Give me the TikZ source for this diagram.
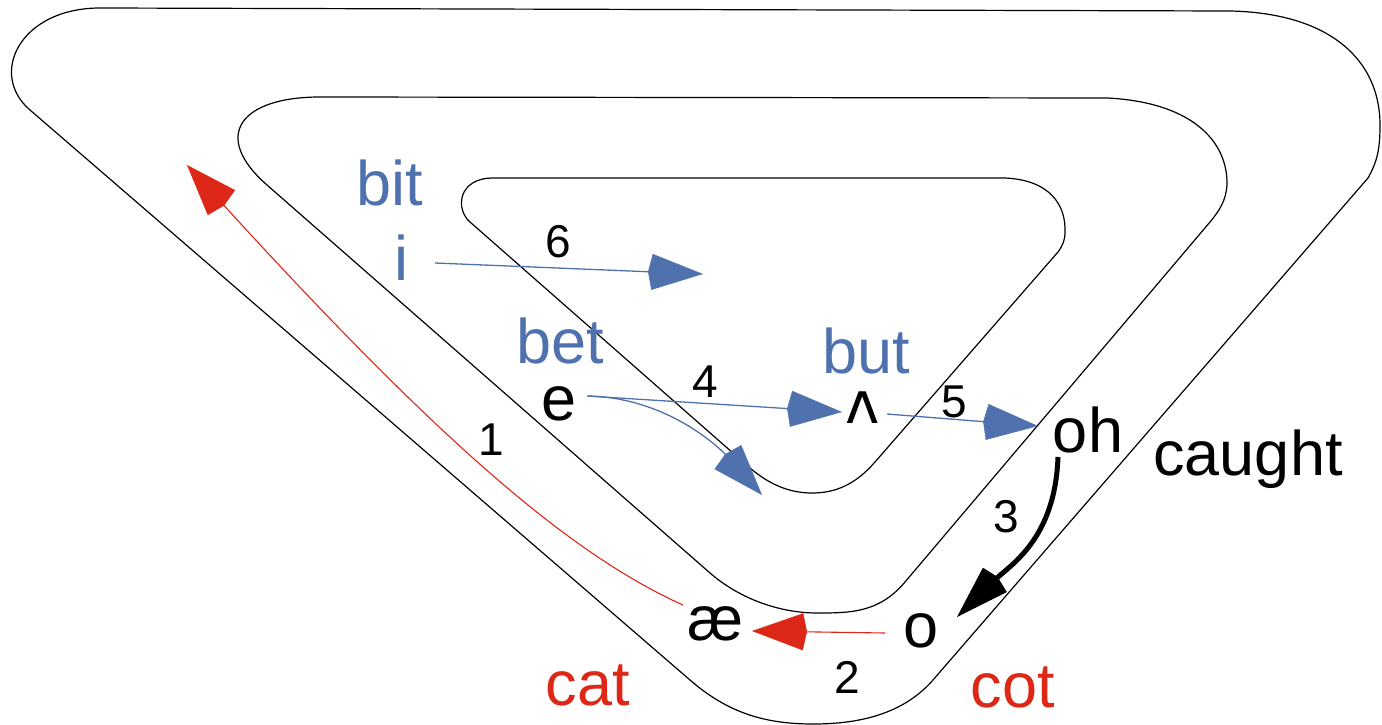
\documentclass[tikz,border=0pt]{standalone}
\usepackage{fontspec}
\setmainfont{Liberation Sans}
\newfontfamily\ipafont{DejaVu Sans}
\usetikzlibrary{arrows.meta,calc}
\definecolor{vblue}{RGB}{79,114,174}
\definecolor{vred}{RGB}{221,40,24}
\tikzset{
  loopline/.style={draw=black, line width=1.2pt, line join=round},
  word/.style={inner sep=0pt, anchor=base, font=\fontsize{63}{70}\selectfont},
  num/.style={inner sep=0pt, anchor=base, font=\fontsize{46}{52}\selectfont},
  bluearrow/.style={draw=vblue, line width=1.3pt, -{Kite[length=55pt,width=36pt,inset=4pt,line width=0.5pt]}},
  redarrow/.style={draw=vred, line width=1.1pt, -{Kite[length=55pt,width=37pt,inset=4pt,line width=0.5pt]}},
  blackarrow/.style={draw=black, line width=5pt, -{Kite[length=57pt,width=34pt,inset=4pt,line width=0.5pt]}},
}
\begin{document}
\begin{tikzpicture}[x=1pt,y=-1pt]
\useasboundingbox (0,0) rectangle (1382,725);
% spiral-like nested loops
\draw[loopline] (100,8) -- (1230,11) .. controls (1330,13) and (1380,60) .. (1380,125)
  .. controls (1380,150) and (1377,162) .. (1368,178) -- (933,680)
  .. controls (900,718) and (850,724) .. (813,724) .. controls (765,724) and (728,713) .. (690,680)
  -- (30,110) .. controls (-12,74) and (20,8) .. (100,8) -- cycle;
\draw[loopline] (320,97) -- (1107,98) .. controls (1190,102) and (1228,140) .. (1227,185)
  .. controls (1226,200) and (1220,210) .. (1210,222) -- (905,582)
  .. controls (879,613) and (850,613) .. (817,613) .. controls (780,613) and (740,599) .. (710,573)
  -- (267,185) .. controls (211,136) and (240,97) .. (320,97) -- cycle;
\draw[loopline] (493,178) -- (1005,178) .. controls (1050,180) and (1066,205) .. (1065,232)
  .. controls (1065,240) and (1063,245) .. (1058,252) -- (875,462)
  .. controls (855,485) and (835,493) .. (812,493) .. controls (790,493) and (770,485) .. (750,468)
  -- (470,222) .. controls (455,209) and (458,178) .. (493,178) -- cycle;
% words
\node[word, text=vblue] (bit) at (390,205) {bit};
\node[word, text=vblue] (i) at (401,280) {i};
\node[word, text=vblue] (bet) at (560,363) {bet};
\node[word] (e) at (559,420) {e};
\node[word, text=vblue] (but) at (866,373) {but};
\node[word, font=\ipafont\fontsize{58}{66}\selectfont] (wedge) at (863,423) {ʌ};
\node[word] (oh) at (1088,452) {oh};
\node[word] (caught) at (1248,475) {caught};
\node[word] (o) at (921,647) {o};
\node[word] (ae) at (716,640) {æ};
\node[word, text=vred] (cat) at (588,705) {cat};
\node[word, text=vred] (cot) at (1013,707) {cot};
% numbers
\node[num] (n1) at (491,455) {1};
\node[num] (n2) at (847,693) {2};
\node[num] (n3) at (1006,532) {3};
\node[num] (n4) at (705,397) {4};
\node[num] (n5) at (954,417) {5};
\node[num] (n6) at (558,257) {6};
% free ends
\coordinate (tipone) at (187,165);
\coordinate (tipsix) at (703,274);
\coordinate (tipcurve) at (762,495);
% connectors
\draw[redarrow] ($(ae.base)+(-33,-35)$) .. controls (560,550) and (420,420) .. (tipone);
\draw[redarrow] ($(o.base)+(-36,-14)$) -- ($(ae.base)+(36,-9)$);
\draw[blackarrow] ($(oh.base)+(-30,5)$) .. controls (1055,540) and (1010,565) .. ($(o.base)+(36,-30)$);
\draw[bluearrow] ($(e.base)+(28,-24)$) -- ($(wedge.base)+(-21,-11)$);
\draw[bluearrow] ($(e.base)+(29,-24)$) .. controls (680,398) and (735,465) .. (tipcurve);
\draw[bluearrow] ($(wedge.base)+(24,-9)$) -- ($(oh.base)+(-50,-26)$);
\draw[bluearrow] ($(i.base)+(34,-17)$) -- (tipsix);
\end{tikzpicture}
\end{document}
